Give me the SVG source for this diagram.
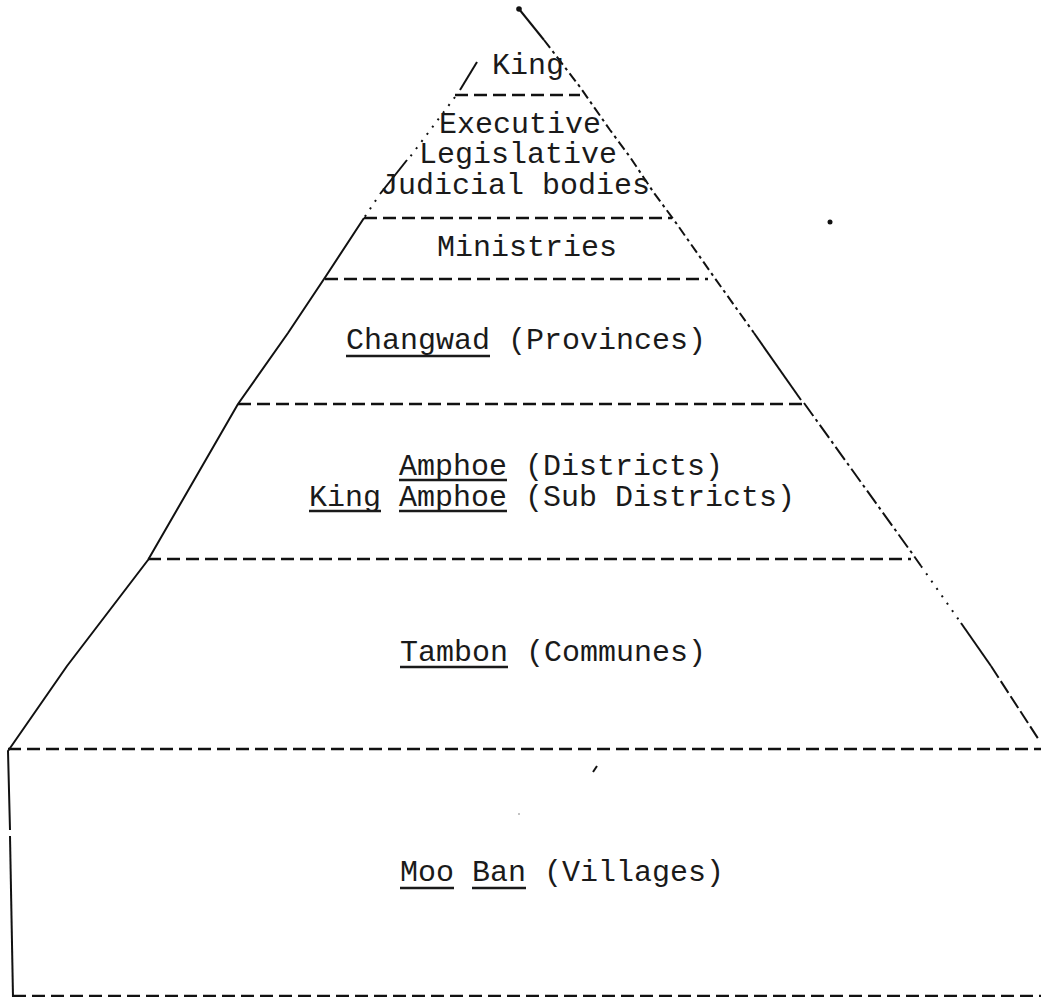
<svg xmlns="http://www.w3.org/2000/svg" width="1041" height="997" viewBox="0 0 1041 997">
<style>
.bg{fill:#ffffff}
.lbl{font-family:"Liberation Mono","Courier New",monospace;font-size:29px;fill:#1a1a1a}
.ul{stroke:#1a1a1a;stroke-width:2.6;fill:none}
.div{stroke:#111;stroke-width:2.6;stroke-dasharray:13 6;fill:none}
.edge{stroke:#111;stroke-width:2;fill:none;stroke-linejoin:round}
.dd{stroke-dasharray:10 4 3 4}
.dot{stroke-dasharray:2 7}
.dsh{stroke-dasharray:16 4 3 4}
</style>
<rect class="bg" x="0" y="0" width="1041" height="997"/>
<g id="outline">
  <circle cx="519" cy="9" r="2.8" fill="#111"/>
  <path class="edge" d="M519 9 L544 40"/>
  <path class="edge dd" d="M544 40 L580 87 L610 130 L630 157 L654 193 L674 220 L714 277 L754 333"/>
  <path class="edge" d="M754 333 L801 400"/>
  <path class="edge dsh" d="M804 403 L914 556 L921 566"/>
  <path class="edge dot" d="M921 566 L961 623"/>
  <path class="edge" d="M961 623 L991 666"/>
  <path class="edge" style="stroke-dasharray:14 4" d="M991 666 L1039 740"/>
  <path class="edge" d="M477 62 L460 90"/>
  <path class="edge dot" d="M455 97 L410 157"/>
  <path class="edge" d="M407 160 L380 194"/>
  <path class="edge dot" d="M376 200 L364 218"/>
  <path class="edge" d="M364 218 L326 276 L288 333 L238 404 L148 560 L67 666 L8 751 L10 830"/>
  <path class="edge" d="M10 836 L13 997"/>
  <circle cx="830" cy="222" r="2.5" fill="#111"/>
  <path class="edge" d="M593 772 L597 766"/>
  <circle cx="519" cy="814" r="0.8" fill="#777"/>
</g>
<g id="dividers">
  <line class="div" x1="455" y1="95" x2="580" y2="95"/>
  <line class="div" x1="364" y1="218" x2="672" y2="218"/>
  <line class="div" x1="325" y1="279" x2="708" y2="279"/>
  <line class="div" x1="238" y1="404" x2="804" y2="404"/>
  <line class="div" x1="148" y1="559" x2="911" y2="559"/>
  <line class="div" x1="8" y1="749" x2="1041" y2="749"/>
  <line class="div" x1="13" y1="996" x2="1041" y2="996"/>
</g>
<g id="node-king">
  <text class="lbl" x="492" y="74" textLength="72" lengthAdjust="spacingAndGlyphs">King</text>
</g>
<g id="node-bodies">
  <text class="lbl" x="439" y="133" textLength="162" lengthAdjust="spacingAndGlyphs">Executive</text>
  <text class="lbl" x="419" y="163" textLength="198" lengthAdjust="spacingAndGlyphs">Legislative</text>
  <text class="lbl" x="380" y="194" textLength="270" lengthAdjust="spacingAndGlyphs">Judicial bodies</text>
</g>
<g id="node-ministries">
  <text class="lbl" x="437" y="256" textLength="180" lengthAdjust="spacingAndGlyphs">Ministries</text>
</g>
<g id="node-changwad">
  <text class="lbl" x="346" y="349" textLength="360" lengthAdjust="spacingAndGlyphs">Changwad (Provinces)</text>
  <line class="ul" x1="346" y1="356" x2="490" y2="356"/>
</g>
<g id="node-amphoe">
  <text class="lbl" x="399" y="475" textLength="324" lengthAdjust="spacingAndGlyphs">Amphoe (Districts)</text>
  <line class="ul" x1="399" y1="480" x2="507" y2="480"/>
  <text class="lbl" x="309" y="506" textLength="486" lengthAdjust="spacingAndGlyphs">King Amphoe (Sub Districts)</text>
  <line class="ul" x1="309" y1="511" x2="381" y2="511"/>
  <line class="ul" x1="399" y1="511" x2="507" y2="511"/>
</g>
<g id="node-tambon">
  <text class="lbl" x="400" y="661" textLength="306" lengthAdjust="spacingAndGlyphs">Tambon (Communes)</text>
  <line class="ul" x1="400" y1="667" x2="508" y2="667"/>
</g>
<g id="node-mooban">
  <text class="lbl" x="400" y="881" textLength="324" lengthAdjust="spacingAndGlyphs">Moo Ban (Villages)</text>
  <line class="ul" x1="400" y1="888" x2="454" y2="888"/>
  <line class="ul" x1="472" y1="888" x2="526" y2="888"/>
</g>
</svg>
